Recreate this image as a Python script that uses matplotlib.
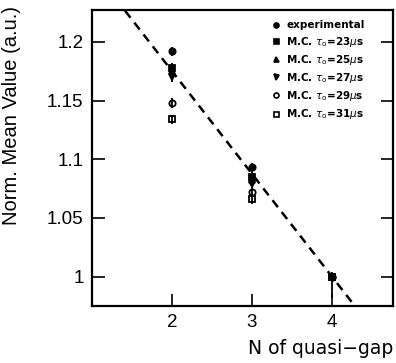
import matplotlib
matplotlib.use("Agg")
import matplotlib.pyplot as plt
from matplotlib.lines import Line2D
import numpy as np

# Data
x_vals = [2, 3, 4]
exp_vals = [1.192, 1.093, 1.000]
exp_err_lo = [0.004, 0.004, 0.018]
exp_err_hi = [0.004, 0.004, 0.004]
mc23 = [1.178, 1.085, 1.000]
mc25 = [1.175, 1.082, 1.000]
mc27 = [1.170, 1.079, 1.000]
mc29 = [1.148, 1.072, 1.000]
mc31 = [1.134, 1.066, 1.000]
mc_err = [0.004, 0.004, 0.003]
fit_x = [1.0, 4.75]
fit_y = [1.2628, 0.9343]

labels = ["experimental",
          r"M.C. $\tau_{\rm o}$=23$\mu$s",
          r"M.C. $\tau_{\rm o}$=25$\mu$s",
          r"M.C. $\tau_{\rm o}$=27$\mu$s",
          r"M.C. $\tau_{\rm o}$=29$\mu$s",
          r"M.C. $\tau_{\rm o}$=31$\mu$s"]
ytick_vals = [1.0, 1.05, 1.1, 1.15, 1.2]
ytick_labels = ["1", "1.05", "1.1", "1.15", "1.2"]
xtick_vals = [2, 3, 4]

plt.rcParams['font.family'] = ['Liberation Sans', 'DejaVu Sans']
fig = plt.figure(figsize=(3.96, 3.63), dpi=100)
ax = fig.add_axes([0.232, 0.157, 0.760, 0.815])

ax.plot(fit_x, fit_y, color='black', lw=1.8, ls=(0, (3.5, 2.5)), zorder=1)

series = [
    (exp_vals, 'o', 'black', [exp_err_lo, exp_err_hi]),
    (mc23, 's', 'black', mc_err),
    (mc25, '^', 'black', mc_err),
    (mc27, 'v', 'black', mc_err),
    (mc29, 'o', 'none', mc_err),
    (mc31, 's', 'none', mc_err),
]
handles = []
for (vals, m, fc, err), lab in zip(series, labels):
    ax.errorbar(x_vals, vals, yerr=err, fmt=m, mfc=fc, mec='black',
                ecolor='black', ms=4.5, mew=1.3, elinewidth=1.3,
                capsize=0, zorder=3)
    handles.append(Line2D([], [], ls='none', marker=m, mfc=fc, mec='black',
                          ms=3.6, mew=1.2))

ax.set_xlim(1.0, 4.76)
ax.set_ylim(0.975, 1.227)
ax.set_xticks(xtick_vals)
ax.set_yticks(ytick_vals)
ax.set_yticklabels(ytick_labels)
ax.tick_params(axis='both', direction='in', length=9, width=1.2,
               labelsize=13.5, top=False, right=True, pad=6)
for sp in ax.spines.values():
    sp.set_linewidth(1.6)

ax.set_ylabel("Norm. Mean Value (a.u.)", fontsize=14.5)
ax.yaxis.set_label_coords(-0.235, 0.645)
fig.text(0.992, 0.015, "N of quasi\u2212gap", fontsize=13.5, ha='right',
         va='bottom', family='DejaVu Sans')

leg = ax.legend(handles=handles, labels=labels, loc='upper left',
                bbox_to_anchor=(0.57, 0.99), frameon=False,
                prop={'size': 7.5, 'weight': 'bold', 'family': 'DejaVu Sans'},
                handlelength=1.0, handletextpad=0.5, labelspacing=0.4,
                borderpad=0.2)

fig.savefig("out.png", dpi=100)
